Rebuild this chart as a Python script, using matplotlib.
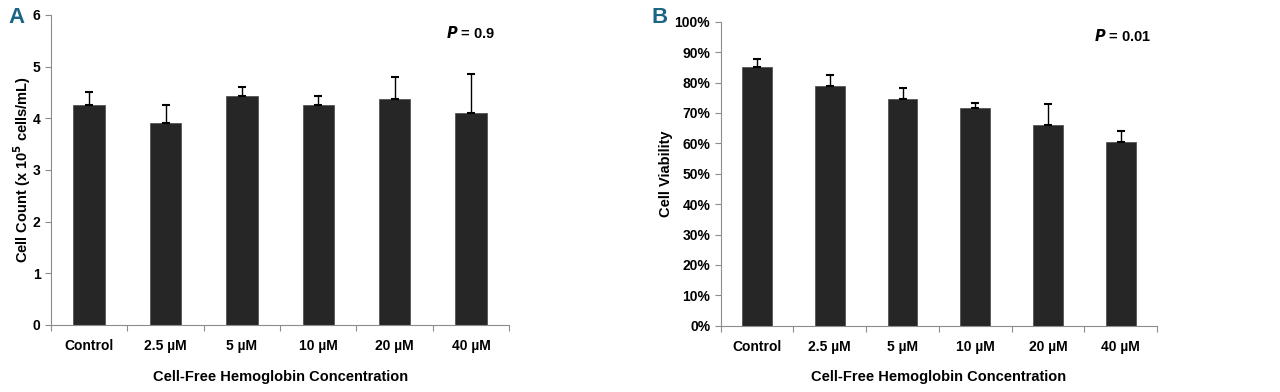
import matplotlib.pyplot as plt
import numpy as np
from matplotlib.ticker import PercentFormatter

plt.rcParams['font.family'] = ['Liberation Sans', 'DejaVu Sans']
plt.rcParams['font.weight'] = 'bold'

categories = ["Control", "2.5 µM", "5 µM", "10 µM", "20 µM", "40 µM"]

# panel A: cell count (x 10^5 cells/mL)
count_mean = [4.26, 3.90, 4.43, 4.26, 4.37, 4.10]
count_err = [0.24, 0.35, 0.18, 0.17, 0.43, 0.75]

# panel B: viability (%)
viab_mean = [85.1, 78.9, 74.6, 71.6, 66.2, 60.6]
viab_err = [2.6, 3.7, 3.5, 1.7, 6.8, 3.4]

bar_color = '#262626'
axis_color = '#8c8c8c'
label_color = '#1b6584'


def style_axes(ax, n):
    for s in ['top', 'right']:
        ax.spines[s].set_visible(False)
    for s in ['left', 'bottom']:
        ax.spines[s].set_color(axis_color)
    ax.set_xlim(-0.5, n - 0.5)
    # ticks between categories, labels centred under bars
    ax.set_xticks(np.arange(-0.5, n, 1.0))
    ax.set_xticklabels([])
    ax.set_xticks(np.arange(n), minor=True)
    ax.set_xticklabels(categories, minor=True, fontsize=10, fontweight='bold')
    ax.tick_params(axis='x', which='minor', length=0, pad=10)
    ax.tick_params(axis='x', which='major', direction='out', length=4, color=axis_color)
    ax.tick_params(axis='y', direction='out', length=4, color=axis_color, labelsize=10)
    ax.set_xlabel("Cell-Free Hemoglobin Concentration", fontsize=10.5, fontweight='bold', labelpad=12)


fig = plt.figure(figsize=(12.8, 3.92), dpi=100)

x = np.arange(len(categories))
ekw = dict(ecolor='black', elinewidth=1, capsize=3, capthick=1.5)

axA = fig.add_axes([0.0398, 0.171, 0.358, 0.791])
axA.bar(x, count_mean, width=0.41, color=bar_color, edgecolor='#555555', linewidth=0.6,
        yerr=[np.zeros(len(x)), count_err], error_kw=ekw)
axA.set_ylim(0, 6)
axA.set_yticks(range(7))
style_axes(axA, len(categories))
axA.set_ylabel("Cell Count (x 10$^{\\mathbf{5}}$ cells/mL)", fontsize=10.5, fontweight='bold', labelpad=0)
axA.text(0.915, 0.942, "$\\mathbfit{P}$ = 0.9", transform=axA.transAxes, ha='center', va='center',
         fontsize=10.5, fontweight='bold')

axB = fig.add_axes([0.563, 0.169, 0.341, 0.7755])
axB.bar(x, viab_mean, width=0.41, color=bar_color, edgecolor='#555555', linewidth=0.6,
        yerr=[np.zeros(len(x)), viab_err], error_kw=ekw)
axB.set_ylim(0, 100)
axB.set_yticks(range(0, 101, 10))
axB.yaxis.set_major_formatter(PercentFormatter(decimals=0))
style_axes(axB, len(categories))
axB.set_ylabel("Cell Viability", fontsize=10.5, fontweight='bold', labelpad=1)
axB.text(0.92, 0.953, "$\\mathbfit{P}$ = 0.01", transform=axB.transAxes, ha='center', va='center',
         fontsize=10.5, fontweight='bold')

fig.text(0.0128, 0.955, "A", color=label_color, fontsize=16, fontweight='bold', ha='center', va='center')
fig.text(0.5155, 0.955, "B", color=label_color, fontsize=16, fontweight='bold', ha='center', va='center')

fig.savefig("out.png", dpi=100)
